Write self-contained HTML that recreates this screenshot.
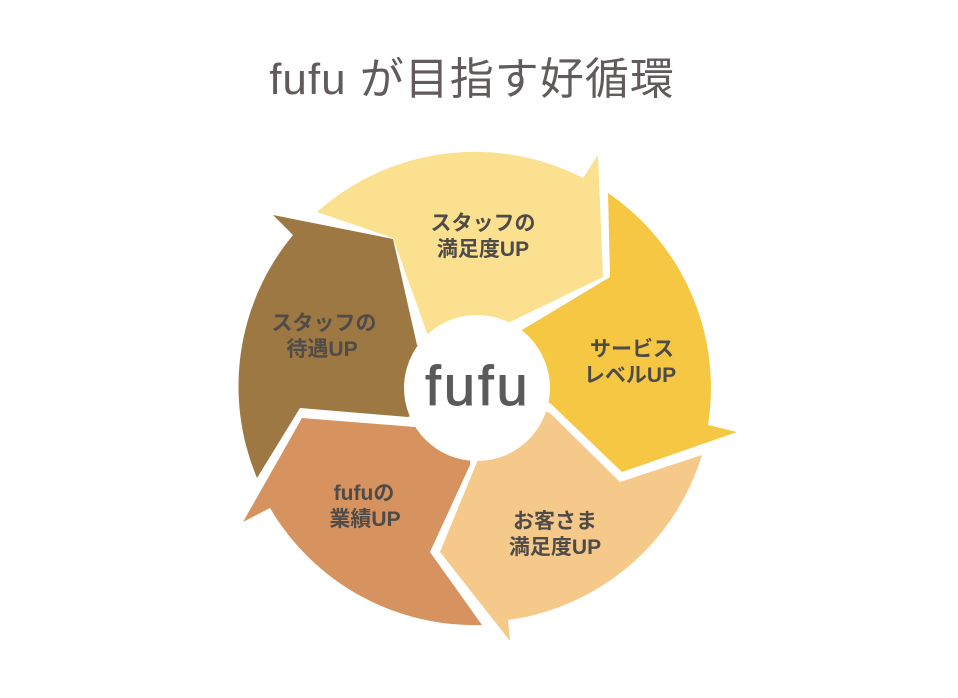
<!DOCTYPE html>
<html><head><meta charset="utf-8"><style>
html,body{margin:0;padding:0;background:#fff;}
svg{display:block;}
text{font-family:"Liberation Sans","Noto Sans CJK JP",sans-serif;}
</style></head><body>
<svg width="958" height="698" viewBox="0 0 958 698" xmlns="http://www.w3.org/2000/svg">
<text x="472" y="94" text-anchor="middle" font-size="44" fill="#625b5b" letter-spacing="1">fufu が目指す好循環</text>
<path d="M317,212 A237,237 0 0 1 583,178 L598,155 L603,277 L510,322 L477,388 L427,333 L393,238 Z" fill="#fae08f"/>
<path d="M608,193 A236,236 0 0 1 708,425 L737,432 L622,472 L550,403 L477,388 L522,330 L610,277 Z" fill="#f5c742"/>
<path d="M702,455 A236,236 0 0 1 508,620 L510,641 L440,552 L477,462 L477,388 L550,413 L620,482 Z" fill="#f5c98a"/>
<path d="M482,625 A237,237 0 0 1 270,508 L243,522 L302,418 L415,427 L477,388 L470,465 L430,552 Z" fill="#d6935f"/>
<path d="M257,478 A237,237 0 0 1 293,235 L273,215 L393,239 L417,345 L477,388 L408,417 L300,408 Z" fill="#9e7843"/>
<circle cx="477" cy="388" r="73" fill="#fff"/>
<text x="478" y="405" text-anchor="middle" font-size="56" fill="#5a5a5a" letter-spacing="3" stroke="#5a5a5a" stroke-width="1">fufu</text>
<g font-size="21" font-weight="bold" fill="#4f4b48" text-anchor="middle">
<text x="483" y="230">スタッフの</text><text x="483" y="256">満足度UP</text>
<text x="632" y="356">サービス</text><text x="630" y="382">レベルUP</text>
<text x="555" y="528">お客さま</text><text x="555" y="554">満足度UP</text>
<text x="364" y="500">fufuの</text><text x="365" y="526">業績UP</text>
<text x="324" y="330">スタッフの</text><text x="322" y="356">待遇UP</text>
</g>
</svg>
</body></html>
